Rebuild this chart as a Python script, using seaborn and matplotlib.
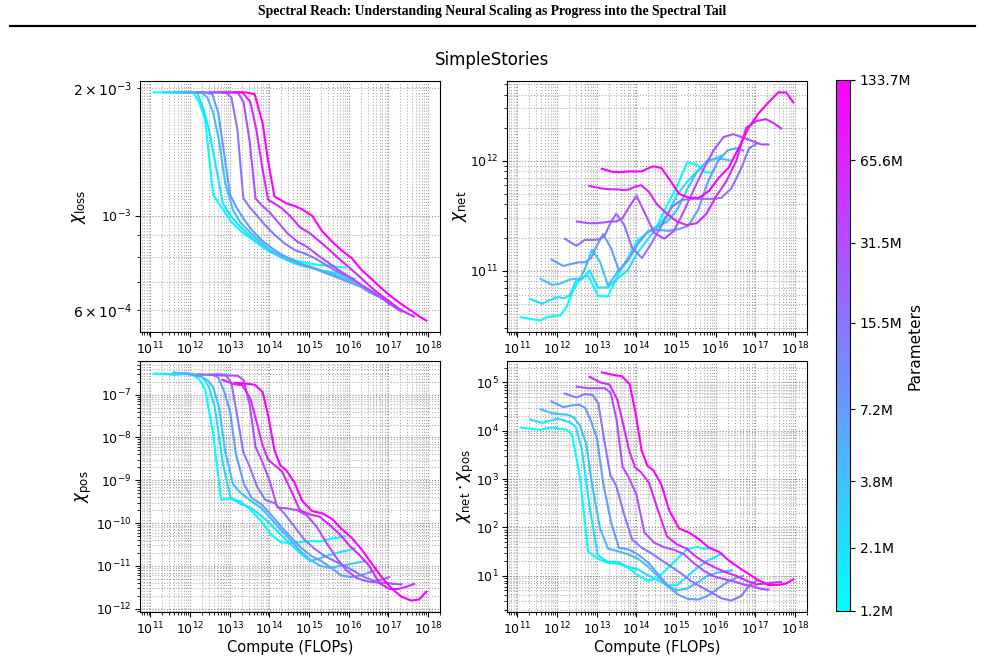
import matplotlib
matplotlib.use("Agg")
import matplotlib.pyplot as plt
import numpy as np
import pandas as pd
import seaborn as sns
from matplotlib.colors import LogNorm
from matplotlib.ticker import LogLocator, NullFormatter, FixedLocator
from matplotlib.lines import Line2D

# ---------------- data ----------------
params_M = [1.2, 2.1, 3.8, 7.2, 15.5, 31.5, 65.6, 133.7]
tokens_M = [0.0167, 0.033, 0.053, 0.084, 0.118, 0.167, 0.236, 0.333, 0.53, 0.84,
            1.49, 2.65, 4.7, 8.4, 14.9, 26.5, 47, 84, 149, 265, 470, 745, 1130]

loss_1m2 = [1.95e-3, 1.95e-3, 1.95e-3, 1.95e-3, 1.95e-3, 1.95e-3, 1.85e-3, 1.68e-3, 1.12e-3, 1.05e-3,
            9.7e-4, 9.2e-4, 8.85e-4, 8.5e-4, 8.2e-4, 8.05e-4, 7.9e-4, 7.8e-4, 7.72e-4, 7.66e-4,
            7.62e-4, 7.58e-4, 7.55e-4]
loss_2m1 = [1.95e-3, 1.95e-3, 1.95e-3, 1.95e-3, 1.95e-3, 1.8e-3, 1.6e-3, 1.35e-3, 1.07e-3, 1.0e-3,
            9.4e-4, 8.95e-4, 8.55e-4, 8.25e-4, 8.0e-4, 7.8e-4, 7.65e-4, 7.55e-4, 7.45e-4, 7.38e-4,
            7.3e-4, 7.2e-4, 7.1e-4]
loss_3m8 = [1.95e-3, 1.95e-3, 1.95e-3, 1.95e-3, 1.9e-3, 1.75e-3, 1.5e-3, 1.2e-3, 1.03e-3, 9.6e-4,
            9.1e-4, 8.65e-4, 8.3e-4, 8.05e-4, 7.85e-4, 7.7e-4, 7.6e-4, 7.45e-4, 7.32e-4, 7.2e-4,
            7.05e-4, 6.92e-4, 6.8e-4]
loss_7m2 = [1.95e-3, 1.95e-3, 1.95e-3, 1.93e-3, 1.75e-3, 1.4e-3, 1.12e-3, 1.05e-3, 9.8e-4, 9.25e-4,
            8.75e-4, 8.4e-4, 8.1e-4, 7.9e-4, 7.7e-4, 7.55e-4, 7.4e-4, 7.25e-4, 7.1e-4, 6.95e-4,
            6.8e-4, 6.62e-4, 6.5e-4]
loss_15m5 = [1.95e-3, 1.95e-3, 1.95e-3, 1.95e-3, 1.9e-3, 1.6e-3, 1.1e-3, 1.05e-3, 1.0e-3, 9.5e-4,
             9.0e-4, 8.6e-4, 8.3e-4, 8.15e-4, 7.95e-4, 7.7e-4, 7.45e-4, 7.25e-4, 7.05e-4, 6.8e-4,
             6.6e-4, 6.4e-4, 6.2e-4]
loss_31m5 = [1.95e-3, 1.95e-3, 1.95e-3, 1.95e-3, 1.85e-3, 1.5e-3, 1.1e-3, 1.06e-3, 1.02e-3, 9.7e-4,
             9.1e-4, 8.7e-4, 8.45e-4, 8.1e-4, 7.8e-4, 7.5e-4, 7.25e-4, 7.0e-4, 6.75e-4, 6.5e-4,
             6.3e-4, 6.1e-4, 5.95e-4]
loss_65m6 = [1.95e-3, 1.95e-3, 1.95e-3, 1.85e-3, 1.6e-3, 1.3e-3, 1.09e-3, 1.07e-3, 1.04e-3, 1.0e-3,
             9.4e-4, 9.1e-4, 8.7e-4, 8.3e-4, 7.9e-4, 7.55e-4, 7.2e-4, 6.85e-4, 6.55e-4, 6.3e-4,
             6.05e-4, 5.9e-4, 5.8e-4]
loss_133m7 = [1.95e-3, 1.95e-3, 1.93e-3, 1.65e-3, 1.33e-3, 1.11e-3, 1.09e-3, 1.07e-3, 1.055e-3, 1.035e-3,
              1.0e-3, 9.2e-4, 8.7e-4, 8.28e-4, 7.95e-4, 7.45e-4, 7.1e-4, 6.75e-4, 6.45e-4, 6.2e-4,
              5.98e-4, 5.8e-4, 5.67e-4]

net_1m2 = [3.76e10, 3.6e10, 3.5e10, 3.8e10, 3.85e10, 3.9e10, 4.6e10, 6.3e10, 8.5e10, 9.0e10,
           5.9e10, 5.8e10, 9.0e10, 1.3e11, 1.9e11, 2.2e11, 2.6e11, 4.0e11, 5.9e11, 9.7e11,
           9.2e11, 7.9e11, 7.8e11]
net_2m1 = [5.5e10, 5.0e10, 5.4e10, 5.75e10, 5.6e10, 6.0e10, 8.0e10, 8.3e10, 1.0e11, 7.0e10,
           7.0e10, 8.5e10, 1.0e11, 1.45e11, 1.9e11, 2.5e11, 3.2e11, 4.9e11, 6.4e11, 8.0e11,
           9.6e11, 1.05e12, 1.12e12]
net_3m8 = [8.4e10, 7.4e10, 7.6e10, 8.2e10, 8.4e10, 8.4e10, 1.1e11, 1.55e11, 1.2e11, 7.3e10,
           9.8e10, 1.22e11, 1.75e11, 2.25e11, 2.5e11, 2.8e11, 3.6e11, 5.5e11, 8.0e11, 1.0e12,
           1.05e12, 1.03e12, 1.0e12]
net_7m2 = [1.26e11, 1.1e11, 1.15e11, 1.19e11, 1.19e11, 1.3e11, 1.7e11, 2.15e11, 1.6e11, 1.0e11,
           1.3e11, 1.8e11, 2.3e11, 2.35e11, 2.3e11, 2.38e11, 2.55e11, 3.6e11, 6.5e11, 1.0e12,
           1.25e12, 1.3e12, 1.24e12]
net_15m5 = [1.95e11, 1.68e11, 1.9e11, 1.9e11, 1.92e11, 2.05e11, 2.7e11, 3.3e11, 2.6e11, 1.6e11,
            1.3e11, 1.8e11, 2.6e11, 3.8e11, 4.4e11, 4.5e11, 4.5e11, 4.5e11, 4.6e11, 5.6e11,
            8.5e11, 1.3e12, 1.43e12]
net_31m5 = [2.8e11, 2.7e11, 2.7e11, 2.75e11, 2.8e11, 2.8e11, 3.0e11, 3.7e11, 4.8e11, 3.4e11,
            2.2e11, 1.95e11, 2.3e11, 3.5e11, 5.5e11, 8.5e11, 1.25e12, 1.65e12, 1.75e12, 1.62e12,
            1.5e12, 1.41e12, 1.41e12]
net_65m6 = [5.9e11, 5.6e11, 5.5e11, 5.5e11, 5.4e11, 5.5e11, 5.8e11, 6.0e11, 5.2e11, 4.0e11,
            3.3e11, 2.8e11, 2.6e11, 2.7e11, 3.3e11, 4.8e11, 6.5e11, 1.0e12, 2.0e12, 2.3e12,
            2.4e12, 2.2e12, 1.97e12]
net_133m7 = [8.45e11, 7.9e11, 7.9e11, 8.0e11, 8.0e11, 8.0e11, 8.5e11, 8.9e11, 8.6e11, 6.8e11,
             5.0e11, 4.6e11, 4.6e11, 5.3e11, 7.0e11, 8.7e11, 1.3e12, 2.0e12, 2.7e12, 3.4e12,
             4.2e12, 4.2e12, 3.4e12]

pos_1m2 = [3.1e-7, 3.0e-7, 3.0e-7, 3.0e-7, 3.0e-7, 2.8e-7, 2.3e-7, 1.3e-7, 1.2e-8, 3.5e-10,
           3.8e-10, 3.2e-10, 2.0e-10, 1.15e-10, 5.5e-11, 3.6e-11, 3.4e-11, 3.6e-11, 3.8e-11, 3.7e-11,
           4.3e-11, 4.6e-11, 4.9e-11]
pos_2m1 = [3.1e-7, 2.9e-7, 3.0e-7, 3.1e-7, 2.9e-7, 2.5e-7, 1.5e-7, 5e-8, 2.5e-9, 3.8e-10,
           2.8e-10, 2.3e-10, 1.55e-10, 9.5e-11, 5.5e-11, 3.3e-11, 2.0e-11, 1.3e-11, 1.5e-11, 1.8e-11,
           2.1e-11, 2.3e-11, 2.6e-11]
pos_3m8 = [3.3e-7, 3.1e-7, 2.9e-7, 2.6e-7, 2.2e-7, 1.5e-7, 5e-8, 5e-9, 8e-10, 5e-10,
           3.3e-10, 2.3e-10, 1.3e-10, 7e-11, 4e-11, 2.2e-11, 1.4e-11, 1.0e-11, 9e-12, 1.0e-11,
           1.1e-11, 1.2e-11, 1.3e-11]
pos_7m2 = [3.2e-7, 2.8e-7, 2.9e-7, 2.9e-7, 2.5e-7, 1.2e-7, 4e-8, 4e-9, 8e-10, 3.8e-10,
           2.7e-10, 1.5e-10, 8e-11, 4.5e-11, 2.6e-11, 1.7e-11, 1.3e-11, 9e-12, 6e-12, 5.5e-12,
           6e-12, 7e-12, 8e-12]
pos_15m5 = [3.0e-7, 2.9e-7, 3.0e-7, 2.9e-7, 1.9e-7, 3e-8, 4.5e-9, 2.2e-9, 7e-10, 3.5e-10,
            2.9e-10, 1.6e-10, 8e-11, 4e-11, 2.5e-11, 1.7e-11, 1.3e-11, 1.0e-11, 7.5e-12, 5.5e-12,
            4.5e-12, 4.8e-12, 5.5e-12]
pos_31m5 = [2.9e-7, 2.8e-7, 2.8e-7, 2.75e-7, 2.2e-7, 6e-8, 6e-9, 3e-9, 1.0e-9, 2.3e-10,
            2.2e-10, 2.0e-10, 1.5e-10, 8e-11, 3.3e-11, 1.5e-11, 7.8e-12, 5.2e-12, 4.4e-12, 4.1e-12,
            4.0e-12, 3.8e-12, 3.7e-12]
pos_65m6 = [2.2e-7, 1.75e-7, 1.65e-7, 8e-8, 2.5e-8, 7e-9, 3.0e-9, 2.3e-9, 1.6e-9, 6.5e-10,
            2.0e-10, 1.6e-10, 1.4e-10, 9.0e-11, 5.5e-11, 3.0e-11, 1.8e-11, 1.0e-11, 4.0e-12, 2.9e-12,
            2.9e-12, 3.3e-12, 3.8e-12]
pos_133m7 = [1.9e-7, 1.8e-7, 1.7e-7, 1.15e-7, 3.0e-8, 5e-9, 2.2e-9, 1.7e-9, 9.0e-10, 3.3e-10,
             1.9e-10, 1.7e-10, 1.25e-10, 7.2e-11, 4.5e-11, 2.4e-11, 1.15e-11, 5.5e-12, 3.0e-12, 1.9e-12,
             1.55e-12, 1.65e-12, 2.5e-12]

loss_series = [loss_1m2, loss_2m1, loss_3m8, loss_7m2, loss_15m5, loss_31m5, loss_65m6, loss_133m7]
net_series = [net_1m2, net_2m1, net_3m8, net_7m2, net_15m5, net_31m5, net_65m6, net_133m7]
pos_series = [pos_1m2, pos_2m1, pos_3m8, pos_7m2, pos_15m5, pos_31m5, pos_65m6, pos_133m7]

# ---------------- table ----------------
rows = []
for n, ls_, ns_, ps_ in zip(params_M, loss_series, net_series, pos_series):
    for d, a, b, c in zip(tokens_M, ls_, ns_, ps_):
        rows.append({"params": n * 1e6, "compute": 6.0 * (n * 1e6) * (d * 1e6),
                     "chi_loss": a, "chi_net": b, "chi_pos": c})
df = pd.DataFrame(rows)
df["chi_prod"] = df["chi_net"] * df["chi_pos"]

# ---------------- figure ----------------
W, H = 985, 659
fig = plt.figure(figsize=(W / 100, H / 100), dpi=100)

def rect(x0, y0, x1, y1):
    return [x0 / W, 1 - y1 / H, (x1 - x0) / W, (y1 - y0) / H]

ax_tl = fig.add_axes(rect(140, 81, 440, 332))
ax_tr = fig.add_axes(rect(507, 81, 807, 332))
ax_bl = fig.add_axes(rect(140, 361, 440, 612))
ax_br = fig.add_axes(rect(507, 361, 807, 612))
cax = fig.add_axes(rect(836, 80, 850, 611))

norm = LogNorm(vmin=min(params_M) * 1e6, vmax=max(params_M) * 1e6)

panels = [
    (ax_tl, "chi_loss", r"$\chi_{\rm loss}$", False, -0.172),
    (ax_tr, "chi_net", r"$\chi_{\rm net}$", False, -0.128),
    (ax_bl, "chi_pos", r"$\chi_{\rm pos}$", True, -0.155),
    (ax_br, "chi_prod", r"$\chi_{\rm net}\cdot\chi_{\rm pos}$", True, -0.105),
]


def decades_in(lo, hi):
    return [10.0 ** k for k in range(int(np.ceil(np.log10(lo) - 1e-9)),
                                     int(np.floor(np.log10(hi) + 1e-9)) + 1)]


for ax, col, lab, bottom, lx in panels:
    ax.set_xscale("log")
    ax.set_yscale("log")
    sns.lineplot(data=df, x="compute", y=col, hue="params", palette="cool",
                 hue_norm=norm, estimator=None, sort=False, legend=False,
                 linewidth=1.5, ax=ax)
    xlo, xhi = ax.get_xlim()
    ylo, yhi = ax.get_ylim()
    ax.xaxis.set_major_locator(FixedLocator(decades_in(xlo, xhi)))
    ax.xaxis.set_minor_locator(LogLocator(base=10, subs=np.arange(2, 10), numticks=200))
    ax.xaxis.set_minor_formatter(NullFormatter())
    if col != "chi_loss":
        ax.yaxis.set_major_locator(FixedLocator(decades_in(ylo, yhi)))
        ax.yaxis.set_minor_locator(LogLocator(base=10, subs=np.arange(2, 10), numticks=200))
        ax.yaxis.set_minor_formatter(NullFormatter())
    ax.set_xlim(xlo, xhi)
    ax.set_ylim(ylo, yhi)
    ax.grid(True, which="major", linestyle=":", linewidth=0.8, color="0.55")
    ax.grid(True, which="minor", linestyle=":", linewidth=0.8, color="0.68")
    ax.tick_params(labelsize=9, pad=2.5)
    ax.set_ylabel(lab, fontsize=12)
    ax.yaxis.set_label_coords(lx, 0.5)
    if bottom:
        ax.set_xlabel("Compute (FLOPs)", fontsize=10.5, labelpad=2)
    else:
        ax.set_xlabel("")

sm = plt.cm.ScalarMappable(norm=norm, cmap="cool")
sm.set_array([])
cb = fig.colorbar(sm, cax=cax)
cb.ax.minorticks_off()
cb.set_ticks([p * 1e6 for p in params_M])
cb.set_ticklabels([f"{p:.1f}M" for p in params_M])
cb.ax.tick_params(labelsize=10)
cb.set_label("Parameters", fontsize=11, labelpad=-3)

fig.text(0.5, 1 - 60 / H, "SimpleStories", ha="center", va="center", fontsize=12)
fig.text(0.5, 1 - 12 / H,
         "Spectral Reach: Understanding Neural Scaling as Progress into the Spectral Tail",
         ha="center", va="center", fontsize=9.8, fontweight="bold", family="Liberation Serif")
fig.add_artist(Line2D([10 / W, 975 / W], [1 - 26 / H, 1 - 26 / H], color="black", linewidth=1.6))

fig.savefig("out.png", dpi=100)
